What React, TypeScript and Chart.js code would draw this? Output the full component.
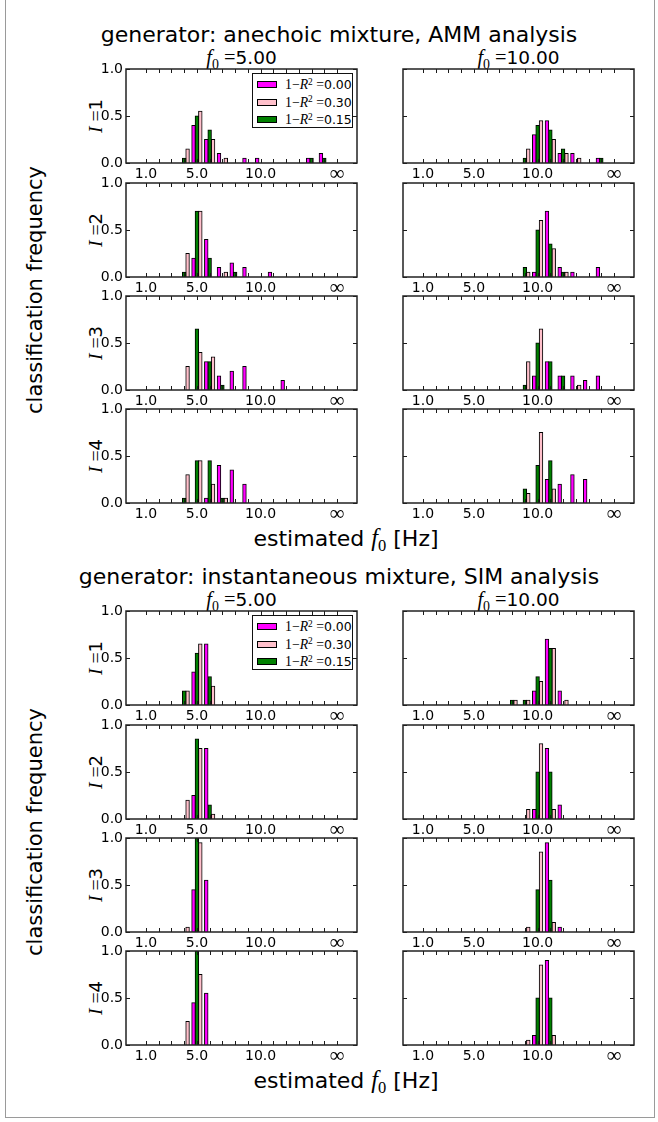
import React, { useEffect, useRef } from 'react';
import { Chart, registerables } from 'chart.js';

Chart.register(...registerables);

// ---------- data ----------
const BIN_CENTERS = [1, 2, 3, 4, 5, 6, 7, 8, 9, 10, 11, 12, 13, 14, 15, 16];
const X_TICK_LABELS = ['1.0', '', '', '', '5.0', '', '', '', '', '10.0', '', '', '', '', '', '\u221E'];
const Y_TICKS = [0, 0.5, 1];
const ROW_LABELS = ['1', '2', '3', '4'];
const F0_LABELS = ['5.00', '10.00'];
const GROUP_TITLES = [
  'generator: anechoic mixture, AMM analysis',
  'generator: instantaneous mixture, SIM analysis',
];
const LEGEND_VALUES = ['0.00', '0.30', '0.15'];
const LEGEND_COLORS = ['#ff00ff', '#ffc0cb', '#008000'];

// AMM analysis, f0 = 5.00 (rows: I=1..4, columns: estimated f0 bins 1..16, last = inf)
const AMM_F5_R000 = [
  [0, 0, 0, 0, 0.4, 0.25, 0.1, 0, 0.05, 0.05, 0, 0, 0, 0.05, 0.1, 0],
  [0, 0, 0, 0, 0.2, 0.4, 0.1, 0.15, 0.1, 0, 0.05, 0, 0, 0, 0, 0],
  [0, 0, 0, 0, 0, 0.3, 0.15, 0.2, 0.25, 0, 0, 0.1, 0, 0, 0, 0],
  [0, 0, 0, 0, 0, 0.05, 0.4, 0.35, 0.2, 0, 0, 0, 0, 0, 0, 0],
];
const AMM_F5_R015 = [
  [0, 0, 0, 0.05, 0.5, 0.35, 0, 0, 0, 0, 0, 0, 0, 0.05, 0.05, 0],
  [0, 0, 0, 0.05, 0.7, 0.2, 0, 0.05, 0, 0, 0, 0, 0, 0, 0, 0],
  [0, 0, 0, 0, 0.65, 0.3, 0.05, 0, 0, 0, 0, 0, 0, 0, 0, 0],
  [0, 0, 0, 0.05, 0.45, 0.45, 0.05, 0, 0, 0, 0, 0, 0, 0, 0, 0],
];
const AMM_F5_R030 = [
  [0, 0, 0, 0.15, 0.55, 0.25, 0.05, 0, 0, 0, 0, 0, 0, 0, 0, 0],
  [0, 0, 0, 0.25, 0.7, 0, 0.05, 0, 0, 0, 0, 0, 0, 0, 0, 0],
  [0, 0, 0, 0.25, 0.4, 0.35, 0, 0, 0, 0, 0, 0, 0, 0, 0, 0],
  [0, 0, 0, 0.3, 0.45, 0.2, 0.05, 0, 0, 0, 0, 0, 0, 0, 0, 0],
];
// AMM analysis, f0 = 10.00
const AMM_F10_R000 = [
  [0, 0, 0, 0, 0, 0, 0, 0, 0, 0.3, 0.45, 0.1, 0.1, 0, 0.05, 0],
  [0, 0, 0, 0, 0, 0, 0, 0, 0, 0.05, 0.7, 0.1, 0.05, 0, 0.1, 0],
  [0, 0, 0, 0, 0, 0, 0, 0, 0, 0.15, 0.3, 0.15, 0.15, 0.1, 0.15, 0],
  [0, 0, 0, 0, 0, 0, 0, 0, 0, 0, 0.25, 0.2, 0.3, 0.25, 0, 0],
];
const AMM_F10_R015 = [
  [0, 0, 0, 0, 0, 0, 0, 0, 0.05, 0.4, 0.35, 0.15, 0, 0, 0.05, 0],
  [0, 0, 0, 0, 0, 0, 0, 0, 0.1, 0.5, 0.35, 0.05, 0, 0, 0, 0],
  [0, 0, 0, 0, 0, 0, 0, 0, 0.05, 0.5, 0.3, 0.15, 0, 0, 0, 0],
  [0, 0, 0, 0, 0, 0, 0, 0, 0.15, 0.4, 0.45, 0, 0, 0, 0, 0],
];
const AMM_F10_R030 = [
  [0, 0, 0, 0, 0, 0, 0, 0, 0.15, 0.45, 0.25, 0.1, 0.05, 0, 0, 0],
  [0, 0, 0, 0, 0, 0, 0, 0, 0.05, 0.6, 0.3, 0.05, 0, 0, 0, 0],
  [0, 0, 0, 0, 0, 0, 0, 0, 0.3, 0.65, 0, 0, 0.05, 0, 0, 0],
  [0, 0, 0, 0, 0, 0, 0, 0, 0.1, 0.75, 0.15, 0, 0, 0, 0, 0],
];
// SIM analysis, f0 = 5.00
const SIM_F5_R000 = [
  [0, 0, 0, 0, 0.35, 0.65, 0, 0, 0, 0, 0, 0, 0, 0, 0, 0],
  [0, 0, 0, 0, 0.25, 0.75, 0, 0, 0, 0, 0, 0, 0, 0, 0, 0],
  [0, 0, 0, 0, 0.45, 0.55, 0, 0, 0, 0, 0, 0, 0, 0, 0, 0],
  [0, 0, 0, 0, 0.45, 0.55, 0, 0, 0, 0, 0, 0, 0, 0, 0, 0],
];
const SIM_F5_R015 = [
  [0, 0, 0, 0.15, 0.55, 0.3, 0, 0, 0, 0, 0, 0, 0, 0, 0, 0],
  [0, 0, 0, 0, 0.85, 0.15, 0, 0, 0, 0, 0, 0, 0, 0, 0, 0],
  [0, 0, 0, 0, 1.0, 0, 0, 0, 0, 0, 0, 0, 0, 0, 0, 0],
  [0, 0, 0, 0, 1.0, 0, 0, 0, 0, 0, 0, 0, 0, 0, 0, 0],
];
const SIM_F5_R030 = [
  [0, 0, 0, 0.15, 0.65, 0.2, 0, 0, 0, 0, 0, 0, 0, 0, 0, 0],
  [0, 0, 0, 0.2, 0.75, 0.05, 0, 0, 0, 0, 0, 0, 0, 0, 0, 0],
  [0, 0, 0, 0.05, 0.95, 0, 0, 0, 0, 0, 0, 0, 0, 0, 0, 0],
  [0, 0, 0, 0.25, 0.75, 0, 0, 0, 0, 0, 0, 0, 0, 0, 0, 0],
];
// SIM analysis, f0 = 10.00
const SIM_F10_R000 = [
  [0, 0, 0, 0, 0, 0, 0, 0, 0, 0.15, 0.7, 0.15, 0, 0, 0, 0],
  [0, 0, 0, 0, 0, 0, 0, 0, 0, 0.1, 0.75, 0.15, 0, 0, 0, 0],
  [0, 0, 0, 0, 0, 0, 0, 0, 0, 0, 0.95, 0.05, 0, 0, 0, 0],
  [0, 0, 0, 0, 0, 0, 0, 0, 0, 0.1, 0.9, 0, 0, 0, 0, 0],
];
const SIM_F10_R015 = [
  [0, 0, 0, 0, 0, 0, 0, 0.05, 0.05, 0.3, 0.6, 0, 0, 0, 0, 0],
  [0, 0, 0, 0, 0, 0, 0, 0, 0, 0.5, 0.5, 0, 0, 0, 0, 0],
  [0, 0, 0, 0, 0, 0, 0, 0, 0, 0.45, 0.55, 0, 0, 0, 0, 0],
  [0, 0, 0, 0, 0, 0, 0, 0, 0, 0.5, 0.5, 0, 0, 0, 0, 0],
];
const SIM_F10_R030 = [
  [0, 0, 0, 0, 0, 0, 0, 0.05, 0.05, 0.25, 0.6, 0.05, 0, 0, 0, 0],
  [0, 0, 0, 0, 0, 0, 0, 0, 0.1, 0.8, 0.1, 0, 0, 0, 0, 0],
  [0, 0, 0, 0, 0, 0, 0, 0, 0.05, 0.85, 0.1, 0, 0, 0, 0, 0],
  [0, 0, 0, 0, 0, 0, 0, 0, 0.05, 0.85, 0.1, 0, 0, 0, 0, 0],
];

const GROUP_DATA = [
  [
    { r000: AMM_F5_R000, r015: AMM_F5_R015, r030: AMM_F5_R030 },
    { r000: AMM_F10_R000, r015: AMM_F10_R015, r030: AMM_F10_R030 },
  ],
  [
    { r000: SIM_F5_R000, r015: SIM_F5_R015, r030: SIM_F5_R030 },
    { r000: SIM_F10_R000, r015: SIM_F10_R015, r030: SIM_F10_R030 },
  ],
];

// ---------- layout ----------
const AX_W = 50;
const PAD_T = 12;
const PAD_R = 12;
const AX_H = 28;
const PANEL_W = 231;
const PANEL_H = 94;
const COL_X = [126, 403];
const ROW_TOP = [69, 183, 296, 409];
const GROUP_DY = [0, 542];

const SANS = '"DejaVu Sans", sans-serif';
const SERIF = '"Liberation Serif", "DejaVu Serif", serif';

const framePlugin = {
  id: 'axesFrame',
  afterDatasetsDraw(chart: any) {
    const { ctx, chartArea: a, scales } = chart;
    ctx.save();
    ctx.strokeStyle = '#1a1a1a';
    ctx.lineWidth = 1;
    ctx.beginPath();
    for (const v of BIN_CENTERS) {
      const x = Math.round(scales.x.getPixelForValue(v)) + 0.5;
      ctx.moveTo(x, a.bottom);
      ctx.lineTo(x, a.bottom - 4);
      ctx.moveTo(x, a.top);
      ctx.lineTo(x, a.top + 4);
    }
    for (const v of Y_TICKS) {
      const y = Math.round(scales.y.getPixelForValue(v)) + 0.5;
      ctx.moveTo(a.left, y);
      ctx.lineTo(a.left + 4, y);
      ctx.moveTo(a.right, y);
      ctx.lineTo(a.right - 4, y);
    }
    ctx.stroke();
    ctx.lineWidth = 1.5;
    ctx.strokeStyle = '#222';
    ctx.strokeRect(a.left, a.top, a.right - a.left, a.bottom - a.top);
    ctx.restore();
  },
};

function toPoints(values: number[]) {
  const pts: { x: number; y: number }[] = [];
  values.forEach((v, i) => {
    if (v > 0) pts.push({ x: BIN_CENTERS[i], y: v });
  });
  return pts;
}

function Panel(props: { left: number; top: number; r000: number[]; r015: number[]; r030: number[]; showY: boolean }) {
  const { left, top, r000, r015, r030, showY } = props;
  const ref = useRef<HTMLCanvasElement>(null);
  const W = AX_W + PANEL_W + PAD_R;
  const H = PAD_T + PANEL_H + AX_H;
  useEffect(() => {
    const canvas = ref.current;
    if (!canvas) return;
    const barStyle = {
      borderColor: '#000',
      borderWidth: 1,
      borderSkipped: 'start' as const,
      inflateAmount: 0.5,
    };
    const chart = new Chart(canvas, {
      type: 'bar',
      data: {
        datasets: [
          { label: '1-R2=0.00', data: toPoints(r000), backgroundColor: '#ff00ff', ...barStyle },
          { label: '1-R2=0.15', data: toPoints(r015), backgroundColor: '#008000', ...barStyle },
          { label: '1-R2=0.30', data: toPoints(r030), backgroundColor: '#ffc0cb', ...barStyle },
        ],
      },
      options: {
        responsive: false,
        animation: false,
        events: [],
        layout: { padding: { left: 0, top: PAD_T, right: PAD_R, bottom: 0 } },
        plugins: { legend: { display: false }, tooltip: { enabled: false } },
        datasets: { bar: { categoryPercentage: 0.8, barPercentage: 1.0 } } as any,
        scales: {
          x: {
            type: 'linear',
            min: 0,
            max: 17,
            grid: { display: false, drawTicks: false },
            border: { display: false },
            afterBuildTicks: (s: any) => {
              s.ticks = BIN_CENTERS.map((v) => ({ value: v }));
            },
            afterFit: (s: any) => {
              s.height = AX_H;
            },
            ticks: {
              autoSkip: false,
              maxRotation: 0,
              minRotation: 0,
              padding: 3,
              color: '#000',
              font: (ctx: any) =>
                ctx.tick && ctx.tick.value === 16
                  ? { size: 21, family: SERIF, lineHeight: 0.8 }
                  : { size: 14, family: SANS, lineHeight: 1.2 },
              callback: (v: any) => {
                const i = BIN_CENTERS.indexOf(Number(v));
                return i >= 0 ? X_TICK_LABELS[i] : '';
              },
            },
          },
          y: {
            type: 'linear',
            min: 0,
            max: 1,
            grid: { display: false, drawTicks: false },
            border: { display: false },
            afterBuildTicks: (s: any) => {
              s.ticks = Y_TICKS.map((v) => ({ value: v }));
            },
            afterFit: (s: any) => {
              s.width = AX_W;
            },
            ticks: {
              padding: 3,
              color: '#000',
              font: { size: 14, family: SANS },
              callback: (v: any) => (showY ? Number(v).toFixed(1) : ''),
            },
          },
        },
      },
      plugins: [framePlugin],
    });
    return () => chart.destroy();
  }, [r000, r015, r030, showY]);
  return (
    <canvas
      ref={ref}
      width={W}
      height={H}
      style={{ position: 'absolute', left: left - AX_W, top: top - PAD_T, width: W, height: H }}
    />
  );
}

function Txt(props: { x: number; y: number; size: number; children: React.ReactNode }) {
  const { x, y, size, children } = props;
  return (
    <div
      style={{
        position: 'absolute',
        left: x,
        top: y - 0.846 * size,
        fontSize: size,
        lineHeight: `${size}px`,
        fontFamily: SANS,
        whiteSpace: 'nowrap',
        transform: 'translateX(-50%)',
        color: '#000',
      }}
    >
      {children}
    </div>
  );
}

function VTxt(props: { x: number; y: number; size: number; children: React.ReactNode }) {
  const { x, y, size, children } = props;
  return (
    <div
      style={{
        position: 'absolute',
        left: x,
        top: y,
        fontSize: size,
        lineHeight: `${size}px`,
        fontFamily: SANS,
        whiteSpace: 'nowrap',
        transform: 'translate(-50%, -50%) rotate(-90deg)',
        color: '#000',
      }}
    >
      {children}
    </div>
  );
}

const It = ({ children }: { children: React.ReactNode }) => (
  <span style={{ fontFamily: SERIF, fontStyle: 'italic', fontSize: '1.1em' }}>{children}</span>
);
const Rm = ({ children }: { children: React.ReactNode }) => (
  <span style={{ fontFamily: SERIF, fontSize: '1.1em' }}>{children}</span>
);
const Sub = ({ children }: { children: React.ReactNode }) => (
  <span style={{ fontFamily: SERIF, fontSize: '0.75em', position: 'relative', top: '0.3em' }}>{children}</span>
);
const Sup = ({ children }: { children: React.ReactNode }) => (
  <span style={{ fontFamily: SERIF, fontSize: '0.75em', position: 'relative', top: '-0.45em' }}>{children}</span>
);

function Legend(props: { left: number; top: number }) {
  const { left, top } = props;
  return (
    <div
      style={{
        position: 'absolute',
        left,
        top,
        width: 101,
        height: 55,
        boxSizing: 'border-box',
        border: '1.5px solid #111',
        background: '#fff',
      }}
    >
      {LEGEND_VALUES.map((val, i) => (
        <div key={val} style={{ position: 'absolute', left: 0, top: 4 + i * 17.5, height: 14, width: 98 }}>
          <div
            style={{
              position: 'absolute',
              left: 4,
              top: 3,
              width: 20,
              height: 7,
              boxSizing: 'border-box',
              border: '1px solid #000',
              background: LEGEND_COLORS[i],
            }}
          />
          <div
            style={{
              position: 'absolute',
              left: 32,
              top: 0,
              fontSize: 12.5,
              lineHeight: '14px',
              fontFamily: SANS,
              whiteSpace: 'nowrap',
              color: '#000',
            }}
          >
            <Rm>1{'\u2212'}</Rm>
            <It>R</It>
            <Sup>2</Sup>
            <Rm> =</Rm>
            {val}
          </div>
        </div>
      ))}
    </div>
  );
}

export default function App() {
  return (
    <div
      style={{
        position: 'absolute',
        left: 0,
        top: 0,
        width: 658,
        height: 1122,
        background: '#fff',
        overflow: 'hidden',
        fontFamily: SANS,
      }}
    >
      <div
        style={{
          position: 'absolute',
          left: 5,
          top: -2,
          width: 650,
          height: 1120,
          boxSizing: 'border-box',
          border: '1px solid #9a9a9a',
        }}
      />
      {GROUP_TITLES.map((title, g) => {
        const dy = GROUP_DY[g];
        return (
          <React.Fragment key={title}>
            <Txt x={339} y={43 + dy} size={22}>
              {title}
            </Txt>
            {F0_LABELS.map((f0, c) => (
              <Txt key={f0} x={COL_X[c] + PANEL_W / 2} y={64 + dy} size={18.5}>
                <It>f</It>
                <Sub>0</Sub>
                <Rm> =</Rm>
                {f0}
              </Txt>
            ))}
            <VTxt x={35} y={290 + dy} size={21}>
              classification frequency
            </VTxt>
            {ROW_LABELS.map((r, i) => (
              <VTxt key={r} x={95} y={ROW_TOP[i] + PANEL_H / 2 + dy} size={18}>
                <It>I</It>
                <Rm>{' ='}</Rm>
                {r}
              </VTxt>
            ))}
            <Txt x={346} y={546 + dy} size={22}>
              estimated <It>f</It>
              <Sub>0</Sub> [Hz]
            </Txt>
            {GROUP_DATA[g].map((col, c) =>
              ROW_TOP.map((rt, i) => (
                <Panel
                  key={`${g}-${c}-${i}`}
                  left={COL_X[c]}
                  top={rt + dy}
                  r000={col.r000[i]}
                  r015={col.r015[i]}
                  r030={col.r030[i]}
                  showY={c === 0}
                />
              ))
            )}
            <Legend left={252} top={73 + dy} />
          </React.Fragment>
        );
      })}
    </div>
  );
}
